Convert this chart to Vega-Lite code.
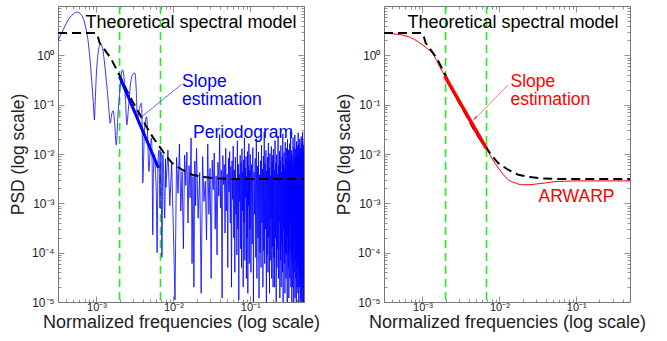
{
  "$schema": "https://vega.github.io/schema/vega-lite/v6.json",
  "padding": {"left": 8, "top": 1, "right": 5, "bottom": 0},
  "spacing": 13,
  "config": {
    "font": "Liberation Sans",
    "view": {"stroke": "#777", "strokeWidth": 1},
    "axis": {
      "labelFont": "Liberation Sans", "labelFontSize": 12, "labelColor": "#222",
      "titleFont": "Liberation Sans", "titleFontSize": 18, "titleFontWeight": "normal", "titleColor": "#222",
      "domain": false, "grid": false, "tickColor": "#777", "tickWidth": 0.8,
      "labelOverlap": false, "labelFlush": false, "labelBound": false
    },
    "text": {"font": "Liberation Sans", "fontSize": 18}
  },
  "datasets": {
    "green": [{"f": 0.002}, {"f": 0.0068}],
    "model": [
      {"f": 0.000316, "p": 2.85}, {"f": 0.00095, "p": 2.85}, {"f": 0.001, "p": 2.8}, {"f": 0.00105, "p": 2.3},
      {"f": 0.0011, "p": 1.8}, {"f": 0.00133, "p": 1.19}, {"f": 0.00155, "p": 0.85}, {"f": 0.00179, "p": 0.55},
      {"f": 0.002, "p": 0.39}, {"f": 0.0025, "p": 0.19}, {"f": 0.003, "p": 0.11}, {"f": 0.0037, "p": 0.062},
      {"f": 0.0045, "p": 0.035}, {"f": 0.0055, "p": 0.021}, {"f": 0.0068, "p": 0.0133}, {"f": 0.008, "p": 0.0092},
      {"f": 0.0096, "p": 0.0066}, {"f": 0.013, "p": 0.0048}, {"f": 0.0176, "p": 0.0038}, {"f": 0.025, "p": 0.0034},
      {"f": 0.037, "p": 0.0032}, {"f": 0.06, "p": 0.00312}, {"f": 0.1, "p": 0.0031}, {"f": 0.5, "p": 0.0031}
    ],
    "ar": [
      {"f": 0.000316, "p": 2.82}, {"f": 0.0004, "p": 2.74}, {"f": 0.00053, "p": 2.6}, {"f": 0.0007, "p": 2.3},
      {"f": 0.00087, "p": 1.9}, {"f": 0.0011, "p": 1.45}, {"f": 0.00141, "p": 1.0}, {"f": 0.00167, "p": 0.59},
      {"f": 0.00194, "p": 0.39}, {"f": 0.0025, "p": 0.19}, {"f": 0.003, "p": 0.11}, {"f": 0.0037, "p": 0.062},
      {"f": 0.0045, "p": 0.034}, {"f": 0.0055, "p": 0.02}, {"f": 0.0068, "p": 0.0128}, {"f": 0.008, "p": 0.0082},
      {"f": 0.0097, "p": 0.0052}, {"f": 0.0113, "p": 0.0038}, {"f": 0.0131, "p": 0.003}, {"f": 0.016, "p": 0.0026},
      {"f": 0.0194, "p": 0.00238}, {"f": 0.025, "p": 0.00239}, {"f": 0.0324, "p": 0.0025}, {"f": 0.04, "p": 0.0026},
      {"f": 0.052, "p": 0.00275}, {"f": 0.07, "p": 0.0028}, {"f": 0.1, "p": 0.00285}, {"f": 0.5, "p": 0.00285}
    ],
    "slopeB": [{"f": 0.002, "p": 0.37}, {"f": 0.0064, "p": 0.0052}],
    "slopeR": [{"f": 0.00195, "p": 0.38}, {"f": 0.0068, "p": 0.0128}],
    "ptrB": [{"f": 0.01285, "p": 0.26, "f2": 0.00368, "p2": 0.0532}],
    "ptrR": [{"f": 0.01303, "p": 0.253, "f2": 0.00469, "p2": 0.0492}],
    "headR": [{"f": 0.00485, "p": 0.0545}],
    "titleL": [{"f": 0.01697, "p": 3.61, "t": "Theoretical spectral model"}],
    "titleR": [{"f": 0.01505, "p": 3.61, "t": "Theoretical spectral model"}],
    "labB": [
      {"f": 0.01296, "p": 0.2297, "t": "Slope"}, {"f": 0.01296, "p": 0.099, "t": "estimation"},
      {"f": 0.018, "p": 0.0212, "t": "Periodogram"}
    ],
    "labR": [
      {"f": 0.01397, "p": 0.2297, "t": "Slope"}, {"f": 0.01397, "p": 0.099, "t": "estimation"},
      {"f": 0.0324, "p": 0.001067, "t": "ARWARP"}
    ],
    "pgLow": [
      {"f": 0.000316, "p": 2.0}, {"f": 0.00036, "p": 3.0}, {"f": 0.0004, "p": 4.3}, {"f": 0.00045, "p": 5.8},
      {"f": 0.0005, "p": 6.9}, {"f": 0.00056, "p": 7.5}, {"f": 0.00062, "p": 7.0}, {"f": 0.00068, "p": 5.3},
      {"f": 0.00073, "p": 3.5}, {"f": 0.00078, "p": 1.9}, {"f": 0.00082, "p": 0.9}, {"f": 0.00085, "p": 0.46},
      {"f": 0.00089, "p": 0.18}, {"f": 0.00092, "p": 0.08}, {"f": 0.00094, "p": 0.049}, {"f": 0.00096, "p": 0.1},
      {"f": 0.001, "p": 0.46}, {"f": 0.00105, "p": 1.1}, {"f": 0.00112, "p": 1.69}, {"f": 0.0012, "p": 1.4},
      {"f": 0.00126, "p": 0.8}, {"f": 0.00131, "p": 0.46}, {"f": 0.00138, "p": 0.2}, {"f": 0.00145, "p": 0.08},
      {"f": 0.00151, "p": 0.042}, {"f": 0.00158, "p": 0.065}, {"f": 0.00165, "p": 0.075}, {"f": 0.00172, "p": 0.045},
      {"f": 0.00181, "p": 0.0153}, {"f": 0.0019, "p": 0.06}, {"f": 0.00198, "p": 0.137}, {"f": 0.00208, "p": 0.35},
      {"f": 0.00219, "p": 0.51}, {"f": 0.0023, "p": 0.3}, {"f": 0.0024, "p": 0.1}, {"f": 0.00248, "p": 0.039},
      {"f": 0.0026, "p": 0.08}, {"f": 0.0028, "p": 0.3}, {"f": 0.003, "p": 0.42}, {"f": 0.00316, "p": 0.435},
      {"f": 0.0033, "p": 0.18}, {"f": 0.0034, "p": 0.049}, {"f": 0.0036, "p": 0.08}, {"f": 0.00384, "p": 0.107},
      {"f": 0.00395, "p": 0.02}, {"f": 0.004, "p": 0.0026}, {"f": 0.0042, "p": 0.03}, {"f": 0.0045, "p": 0.057},
      {"f": 0.00465, "p": 0.02}, {"f": 0.0048, "p": 0.0044}, {"f": 0.005, "p": 0.012}, {"f": 0.0052, "p": 0.021},
      {"f": 0.0053, "p": 0.006}, {"f": 0.0054, "p": 0.00023}, {"f": 0.0055, "p": 0.004}, {"f": 0.0057, "p": 0.0097},
      {"f": 0.00585, "p": 0.004}, {"f": 0.006, "p": 0.0015}, {"f": 0.00615, "p": 0.0001}, {"f": 0.0063, "p": 0.006},
      {"f": 0.0065, "p": 0.012}, {"f": 0.0067, "p": 0.0008}, {"f": 0.0069, "p": 0.011}, {"f": 0.0071, "p": 0.00008},
      {"f": 0.0073, "p": 0.0097}, {"f": 0.0075, "p": 0.003}, {"f": 0.0077, "p": 0.0005}, {"f": 0.0079, "p": 0.008}
    ],
    "pgHigh": [
      {"f": 0.0079, "p": 0.008},
      {"f": 0.008, "p": 0.0021}, {"f": 0.0085, "p": 0.012}, {"f": 0.009, "p": 0.0009}, {"f": 0.0095, "p": 0.0065},
      {"f": 0.01, "p": 0.0003}, {"f": 0.0105, "p": 0.000011}, {"f": 0.011, "p": 0.0085}, {"f": 0.0115, "p": 0.0016},
      {"f": 0.012, "p": 0.016}, {"f": 0.0125, "p": 0.0007}, {"f": 0.013, "p": 0.0044}, {"f": 0.0135, "p": 0.00012},
      {"f": 0.014, "p": 0.0095}, {"f": 0.0145, "p": 0.0023}, {"f": 0.015, "p": 0.011}, {"f": 0.0155, "p": 0.0004},
      {"f": 0.016, "p": 0.0058}, {"f": 0.0165, "p": 0.0013}, {"f": 0.017, "p": 0.021}, {"f": 0.0175, "p": 0.00006},
      {"f": 0.018, "p": 0.0035}, {"f": 0.0185, "p": 0.00002}, {"f": 0.019, "p": 0.0072}, {"f": 0.0195, "p": 0.0009},
      {"f": 0.02, "p": 0.013}, {"f": 0.021, "p": 0.0005}, {"f": 0.022, "p": 0.0042}, {"f": 0.023, "p": 0.000015},
      {"f": 0.024, "p": 0.0089}, {"f": 0.025, "p": 0.0011}, {"f": 0.026, "p": 0.0028}, {"f": 0.027, "p": 0.00018},
      {"f": 0.028, "p": 0.016}, {"f": 0.029, "p": 0.0006}, {"f": 0.03, "p": 0.0051}, {"f": 0.031, "p": 0.00003},
      {"f": 0.032, "p": 0.0075}, {"f": 0.033, "p": 0.0019}, {"f": 0.034, "p": 0.0105}, {"f": 0.035, "p": 0.0003},
      {"f": 0.036, "p": 0.0036}, {"f": 0.037, "p": 0.00009}, {"f": 0.038, "p": 0.0068}, {"f": 0.039, "p": 0.0014},
      {"f": 0.04, "p": 0.025}, {"f": 0.041, "p": 0.0008}, {"f": 0.042, "p": 0.0047}, {"f": 0.043, "p": 0.000012},
      {"f": 0.044, "p": 0.0093}, {"f": 0.045, "p": 0.0024}, {"f": 0.046, "p": 0.0061}, {"f": 0.047, "p": 0.00025},
      {"f": 0.048, "p": 0.013}, {"f": 0.049, "p": 0.0007}, {"f": 0.05, "p": 0.0039}, {"f": 0.051, "p": 0.00005},
      {"f": 0.052, "p": 0.0082}, {"f": 0.053, "p": 0.0017}, {"f": 0.054, "p": 0.0112}, {"f": 0.055, "p": 0.0004},
      {"f": 0.056, "p": 0.0056}, {"f": 0.057, "p": 0.00002}, {"f": 0.058, "p": 0.0073}, {"f": 0.059, "p": 0.0012},
      {"f": 0.06, "p": 0.0145}, {"f": 0.061, "p": 0.0002}, {"f": 0.062, "p": 0.0048}, {"f": 0.063, "p": 0.00004},
      {"f": 0.064, "p": 0.0086}, {"f": 0.065, "p": 0.0006}, {"f": 0.066, "p": 0.0031}, {"f": 0.067, "p": 0.00009},
      {"f": 0.068, "p": 0.0185}, {"f": 0.069, "p": 0.0003}, {"f": 0.07, "p": 0.0062}, {"f": 0.071, "p": 0.000011},
      {"f": 0.072, "p": 0.0039}, {"f": 0.073, "p": 0.0011}, {"f": 0.074, "p": 0.0094}, {"f": 0.075, "p": 0.00012},
      {"f": 0.076, "p": 0.0067}, {"f": 0.077, "p": 0.00005}, {"f": 0.078, "p": 0.0128}, {"f": 0.079, "p": 0.0007},
      {"f": 0.08, "p": 0.0044}, {"f": 0.081, "p": 0.00002}, {"f": 0.082, "p": 0.0076}, {"f": 0.083, "p": 0.0004},
      {"f": 0.084, "p": 0.0215}, {"f": 0.085, "p": 0.00007}, {"f": 0.086, "p": 0.0052}, {"f": 0.087, "p": 0.0013},
      {"f": 0.088, "p": 0.0089}, {"f": 0.089, "p": 0.00003}, {"f": 0.09, "p": 0.0035}, {"f": 0.091, "p": 0.0002},
      {"f": 0.092, "p": 0.0112}, {"f": 0.093, "p": 0.000015}, {"f": 0.094, "p": 0.0058}, {"f": 0.095, "p": 0.0009},
      {"f": 0.096, "p": 0.0163}, {"f": 0.097, "p": 0.00006}, {"f": 0.098, "p": 0.0047}, {"f": 0.099, "p": 0.0003},
      {"f": 0.1, "p": 0.0098}, {"f": 0.102, "p": 0.00004}, {"f": 0.104, "p": 0.0061}, {"f": 0.106, "p": 0.00015},
      {"f": 0.108, "p": 0.0135}, {"f": 0.11, "p": 0.00001}, {"f": 0.112, "p": 0.0043}, {"f": 0.114, "p": 0.0006},
      {"f": 0.116, "p": 0.0082}, {"f": 0.118, "p": 0.00008}, {"f": 0.12, "p": 0.0205}, {"f": 0.122, "p": 0.00003},
      {"f": 0.124, "p": 0.0057}, {"f": 0.126, "p": 0.0002}, {"f": 0.128, "p": 0.0109}, {"f": 0.13, "p": 0.000012},
      {"f": 0.132, "p": 0.0038}, {"f": 0.134, "p": 0.0001}, {"f": 0.136, "p": 0.0073}, {"f": 0.138, "p": 0.00005},
      {"f": 0.14, "p": 0.0152}, {"f": 0.142, "p": 0.0004}, {"f": 0.144, "p": 0.0049}, {"f": 0.146, "p": 0.00002},
      {"f": 0.148, "p": 0.0091}, {"f": 0.15, "p": 0.00011}, {"f": 0.152, "p": 0.0275}, {"f": 0.154, "p": 0.00006},
      {"f": 0.156, "p": 0.0064}, {"f": 0.158, "p": 0.0003}, {"f": 0.16, "p": 0.0118}, {"f": 0.162, "p": 0.00001},
      {"f": 0.164, "p": 0.0045}, {"f": 0.166, "p": 0.00009}, {"f": 0.168, "p": 0.0086}, {"f": 0.17, "p": 0.00004},
      {"f": 0.172, "p": 0.0167}, {"f": 0.174, "p": 0.0002}, {"f": 0.176, "p": 0.0053}, {"f": 0.178, "p": 0.000015},
      {"f": 0.18, "p": 0.0102}, {"f": 0.182, "p": 0.00007}, {"f": 0.184, "p": 0.0036}, {"f": 0.186, "p": 0.0005},
      {"f": 0.188, "p": 0.0142}, {"f": 0.19, "p": 0.00003}, {"f": 0.192, "p": 0.0069}, {"f": 0.194, "p": 0.00013},
      {"f": 0.196, "p": 0.0094}, {"f": 0.198, "p": 0.00002},
      {"f": 0.2, "p": 0.0125}, {"f": 0.2025, "p": 0.00008}, {"f": 0.205, "p": 0.0047}, {"f": 0.2075, "p": 0.00002},
      {"f": 0.21, "p": 0.0188}, {"f": 0.2125, "p": 0.0002}, {"f": 0.215, "p": 0.0066}, {"f": 0.2175, "p": 0.00001},
      {"f": 0.22, "p": 0.0097}, {"f": 0.2225, "p": 0.00005}, {"f": 0.225, "p": 0.0039}, {"f": 0.2275, "p": 0.00012},
      {"f": 0.23, "p": 0.0231}, {"f": 0.2325, "p": 0.00003}, {"f": 0.235, "p": 0.0058}, {"f": 0.2375, "p": 0.0004},
      {"f": 0.24, "p": 0.0114}, {"f": 0.2425, "p": 0.000012}, {"f": 0.245, "p": 0.0072}, {"f": 0.2475, "p": 0.00007},
      {"f": 0.25, "p": 0.0149}, {"f": 0.2525, "p": 0.00002}, {"f": 0.255, "p": 0.0043}, {"f": 0.2575, "p": 0.00015},
      {"f": 0.26, "p": 0.0088}, {"f": 0.2625, "p": 0.00004}, {"f": 0.265, "p": 0.0256}, {"f": 0.2675, "p": 0.00001},
      {"f": 0.27, "p": 0.0061}, {"f": 0.2725, "p": 0.0003}, {"f": 0.275, "p": 0.0107}, {"f": 0.2775, "p": 0.00006},
      {"f": 0.28, "p": 0.0052}, {"f": 0.2825, "p": 0.000015}, {"f": 0.285, "p": 0.0173}, {"f": 0.2875, "p": 0.0001},
      {"f": 0.29, "p": 0.0079}, {"f": 0.2925, "p": 0.00003}, {"f": 0.295, "p": 0.0131}, {"f": 0.2975, "p": 0.00009},
      {"f": 0.3, "p": 0.0046}, {"f": 0.3025, "p": 0.00001}, {"f": 0.305, "p": 0.0198}, {"f": 0.3075, "p": 0.0002},
      {"f": 0.31, "p": 0.0068}, {"f": 0.3125, "p": 0.00005}, {"f": 0.315, "p": 0.0121}, {"f": 0.3175, "p": 0.000012},
      {"f": 0.32, "p": 0.0055}, {"f": 0.3225, "p": 0.00011}, {"f": 0.325, "p": 0.0162}, {"f": 0.3275, "p": 0.00003},
      {"f": 0.33, "p": 0.0084}, {"f": 0.3325, "p": 0.0004}, {"f": 0.335, "p": 0.0289}, {"f": 0.3375, "p": 0.00002},
      {"f": 0.34, "p": 0.0071}, {"f": 0.3425, "p": 0.00008}, {"f": 0.345, "p": 0.0117}, {"f": 0.3475, "p": 0.00001},
      {"f": 0.35, "p": 0.0093}, {"f": 0.3525, "p": 0.00006}, {"f": 0.355, "p": 0.0049}, {"f": 0.3575, "p": 0.00002},
      {"f": 0.36, "p": 0.0215}, {"f": 0.3625, "p": 0.00013}, {"f": 0.365, "p": 0.0076}, {"f": 0.3675, "p": 0.00001},
      {"f": 0.37, "p": 0.0138}, {"f": 0.3725, "p": 0.00004}, {"f": 0.375, "p": 0.0057}, {"f": 0.3775, "p": 0.0002},
      {"f": 0.38, "p": 0.0244}, {"f": 0.3825, "p": 0.000012}, {"f": 0.385, "p": 0.0082}, {"f": 0.3875, "p": 0.00007},
      {"f": 0.39, "p": 0.0126}, {"f": 0.3925, "p": 0.00003}, {"f": 0.395, "p": 0.0063}, {"f": 0.3975, "p": 0.00001},
      {"f": 0.4, "p": 0.0179}, {"f": 0.4025, "p": 0.00009}, {"f": 0.405, "p": 0.0088}, {"f": 0.4075, "p": 0.00002},
      {"f": 0.41, "p": 0.0146}, {"f": 0.4125, "p": 0.00005}, {"f": 0.415, "p": 0.0071}, {"f": 0.4175, "p": 0.000015},
      {"f": 0.42, "p": 0.0268}, {"f": 0.4225, "p": 0.00011}, {"f": 0.425, "p": 0.0095}, {"f": 0.4275, "p": 0.00001},
      {"f": 0.43, "p": 0.0157}, {"f": 0.4325, "p": 0.00004}, {"f": 0.435, "p": 0.0066}, {"f": 0.4375, "p": 0.00002},
      {"f": 0.44, "p": 0.0201}, {"f": 0.4425, "p": 0.00008}, {"f": 0.445, "p": 0.0104}, {"f": 0.4475, "p": 0.00001},
      {"f": 0.45, "p": 0.0132}, {"f": 0.4525, "p": 0.00003}, {"f": 0.455, "p": 0.0078}, {"f": 0.4575, "p": 0.000012},
      {"f": 0.46, "p": 0.0226}, {"f": 0.4625, "p": 0.00006}, {"f": 0.465, "p": 0.0091}, {"f": 0.4675, "p": 0.00001},
      {"f": 0.47, "p": 0.0169}, {"f": 0.4725, "p": 0.00002}, {"f": 0.475, "p": 0.0084}, {"f": 0.4775, "p": 0.00005},
      {"f": 0.48, "p": 0.0281}, {"f": 0.4825, "p": 0.00001}, {"f": 0.485, "p": 0.0112}, {"f": 0.4875, "p": 0.00003},
      {"f": 0.49, "p": 0.0153}, {"f": 0.4925, "p": 0.00001}, {"f": 0.495, "p": 0.0097}, {"f": 0.4975, "p": 0.00002},
      {"f": 0.5, "p": 0.0186}
    ]
  },
  "hconcat": [
    {
      "width": 246, "height": 296,
      "layer": [
        {
          "data": {"name": "green"},
          "mark": {"type": "rule", "stroke": "#22ee22", "strokeWidth": 1.6, "strokeDash": [8, 5]},
          "encoding": {"x": {"field": "f", "type": "quantitative", "scale": {"type": "log", "domain": [0.000316, 0.5], "nice": false}, "axis": null}}
        },
        {
          "data": {"name": "pgLow"},
          "mark": {"type": "line", "stroke": "#0000ff", "strokeWidth": 0.8, "clip": true, "interpolate": "monotone"},
          "encoding": {
            "x": {"field": "f", "type": "quantitative", "scale": {"type": "log", "domain": [0.000316, 0.5], "nice": false},
              "axis": {"orient": "bottom", "title": "Normalized frequencies (log scale)", "titlePadding": -2, "labelPadding": 5, "labelFontSize": 11,
                "values": [0.0004,0.0005,0.0006,0.0007,0.0008,0.0009,0.001,0.002,0.003,0.004,0.005,0.006,0.007,0.008,0.009,0.01,0.02,0.03,0.04,0.05,0.06,0.07,0.08,0.09,0.1,0.2,0.3,0.4,0.5],
                "labelExpr": "abs(log(datum.value)/LN10 - round(log(datum.value)/LN10)) < 0.001 ? ['10⁻³','10⁻²','10⁻¹'][round(log(datum.value)/LN10)+3] : ''",
                "tickSize": {"condition": {"test": "abs(log(datum.value)/LN10 - round(log(datum.value)/LN10)) < 0.001", "value": -6}, "value": -3}}},
            "y": {"field": "p", "type": "quantitative", "scale": {"type": "log", "domain": [0.00001, 10], "nice": false},
              "axis": {"orient": "left", "title": "PSD (log scale)", "titleFontSize": 17.5, "titlePadding": 4, "labelPadding": 10,
                "values": [0.00001,0.00002,0.00003,0.00004,0.00005,0.00006,0.00007,0.00008,0.00009,0.0001,0.0002,0.0003,0.0004,0.0005,0.0006,0.0007,0.0008,0.0009,0.001,0.002,0.003,0.004,0.005,0.006,0.007,0.008,0.009,0.01,0.02,0.03,0.04,0.05,0.06,0.07,0.08,0.09,0.1,0.2,0.3,0.4,0.5,0.6,0.7,0.8,0.9,1,2,3,4,5,6,7,8,9],
                "labelExpr": "abs(log(datum.value)/LN10 - round(log(datum.value)/LN10)) < 0.001 ? ['10⁻⁵','10⁻⁴','10⁻³','10⁻²','10⁻¹','10⁰'][round(log(datum.value)/LN10)+5] : ''",
                "tickSize": {"condition": {"test": "abs(log(datum.value)/LN10 - round(log(datum.value)/LN10)) < 0.001", "value": -6}, "value": -3}}}
          }
        },
        {
          "data": {"name": "pgHigh"},
          "mark": {"type": "line", "stroke": "#0000ff", "strokeWidth": 0.8, "clip": true},
          "encoding": {"x": {"field": "f", "type": "quantitative", "axis": null}, "y": {"field": "p", "type": "quantitative", "axis": null}}
        },
        {
          "data": {"name": "model"},
          "mark": {"type": "line", "stroke": "#000000", "strokeWidth": 2, "strokeDash": [9, 5]},
          "encoding": {
            "x": {"field": "f", "type": "quantitative", "scale": {"type": "log", "domain": [0.000316, 0.5], "nice": false},
              "axis": {"orient": "top", "title": null, "labels": false,
                "values": [0.0004,0.0005,0.0006,0.0007,0.0008,0.0009,0.001,0.002,0.003,0.004,0.005,0.006,0.007,0.008,0.009,0.01,0.02,0.03,0.04,0.05,0.06,0.07,0.08,0.09,0.1,0.2,0.3,0.4,0.5],
                "tickSize": {"condition": {"test": "abs(log(datum.value)/LN10 - round(log(datum.value)/LN10)) < 0.001", "value": -6}, "value": -3}}},
            "y": {"field": "p", "type": "quantitative", "scale": {"type": "log", "domain": [0.00001, 10], "nice": false},
              "axis": {"orient": "right", "title": null, "labels": false,
                "values": [0.00001,0.00002,0.00003,0.00004,0.00005,0.00006,0.00007,0.00008,0.00009,0.0001,0.0002,0.0003,0.0004,0.0005,0.0006,0.0007,0.0008,0.0009,0.001,0.002,0.003,0.004,0.005,0.006,0.007,0.008,0.009,0.01,0.02,0.03,0.04,0.05,0.06,0.07,0.08,0.09,0.1,0.2,0.3,0.4,0.5,0.6,0.7,0.8,0.9,1,2,3,4,5,6,7,8,9],
                "tickSize": {"condition": {"test": "abs(log(datum.value)/LN10 - round(log(datum.value)/LN10)) < 0.001", "value": -6}, "value": -3}}}
          }
        },
        {
          "data": {"name": "slopeB"},
          "mark": {"type": "line", "stroke": "#0000ff", "strokeWidth": 3},
          "encoding": {"x": {"field": "f", "type": "quantitative", "axis": null}, "y": {"field": "p", "type": "quantitative", "axis": null}}
        },
        {
          "data": {"name": "ptrB"},
          "mark": {"type": "rule", "stroke": "#3344ff", "strokeWidth": 0.8},
          "encoding": {"x": {"field": "f", "type": "quantitative", "axis": null}, "y": {"field": "p", "type": "quantitative", "axis": null}, "x2": {"field": "f2"}, "y2": {"field": "p2"}}
        },
        {
          "data": {"name": "titleL"},
          "mark": {"type": "text", "color": "#000000", "align": "center", "baseline": "alphabetic"},
          "encoding": {"x": {"field": "f", "type": "quantitative", "axis": null}, "y": {"field": "p", "type": "quantitative", "axis": null}, "text": {"field": "t"}}
        },
        {
          "data": {"name": "labB"},
          "mark": {"type": "text", "color": "#0000ff", "align": "left", "baseline": "alphabetic", "fontSize": 17.5},
          "encoding": {"x": {"field": "f", "type": "quantitative", "axis": null}, "y": {"field": "p", "type": "quantitative", "axis": null}, "text": {"field": "t"}}
        }
      ]
    },
    {
      "width": 246, "height": 296,
      "layer": [
        {
          "data": {"name": "green"},
          "mark": {"type": "rule", "stroke": "#22ee22", "strokeWidth": 1.6, "strokeDash": [8, 5]},
          "encoding": {"x": {"field": "f", "type": "quantitative", "scale": {"type": "log", "domain": [0.000316, 0.5], "nice": false}, "axis": null}}
        },
        {
          "data": {"name": "ar"},
          "mark": {"type": "line", "stroke": "#ff0000", "strokeWidth": 1, "interpolate": "monotone"},
          "encoding": {
            "x": {"field": "f", "type": "quantitative", "scale": {"type": "log", "domain": [0.000316, 0.5], "nice": false},
              "axis": {"orient": "bottom", "title": "Normalized frequencies (log scale)", "titlePadding": -2, "labelPadding": 5, "labelFontSize": 11,
                "values": [0.0004,0.0005,0.0006,0.0007,0.0008,0.0009,0.001,0.002,0.003,0.004,0.005,0.006,0.007,0.008,0.009,0.01,0.02,0.03,0.04,0.05,0.06,0.07,0.08,0.09,0.1,0.2,0.3,0.4,0.5],
                "labelExpr": "abs(log(datum.value)/LN10 - round(log(datum.value)/LN10)) < 0.001 ? ['10⁻³','10⁻²','10⁻¹'][round(log(datum.value)/LN10)+3] : ''",
                "tickSize": {"condition": {"test": "abs(log(datum.value)/LN10 - round(log(datum.value)/LN10)) < 0.001", "value": -6}, "value": -3}}},
            "y": {"field": "p", "type": "quantitative", "scale": {"type": "log", "domain": [0.00001, 10], "nice": false},
              "axis": {"orient": "left", "title": "PSD (log scale)", "titleFontSize": 17.5, "titlePadding": 4, "labelPadding": 10,
                "values": [0.00001,0.00002,0.00003,0.00004,0.00005,0.00006,0.00007,0.00008,0.00009,0.0001,0.0002,0.0003,0.0004,0.0005,0.0006,0.0007,0.0008,0.0009,0.001,0.002,0.003,0.004,0.005,0.006,0.007,0.008,0.009,0.01,0.02,0.03,0.04,0.05,0.06,0.07,0.08,0.09,0.1,0.2,0.3,0.4,0.5,0.6,0.7,0.8,0.9,1,2,3,4,5,6,7,8,9],
                "labelExpr": "abs(log(datum.value)/LN10 - round(log(datum.value)/LN10)) < 0.001 ? ['10⁻⁵','10⁻⁴','10⁻³','10⁻²','10⁻¹','10⁰'][round(log(datum.value)/LN10)+5] : ''",
                "tickSize": {"condition": {"test": "abs(log(datum.value)/LN10 - round(log(datum.value)/LN10)) < 0.001", "value": -6}, "value": -3}}}
          }
        },
        {
          "data": {"name": "model"},
          "mark": {"type": "line", "stroke": "#000000", "strokeWidth": 2, "strokeDash": [9, 5]},
          "encoding": {
            "x": {"field": "f", "type": "quantitative", "scale": {"type": "log", "domain": [0.000316, 0.5], "nice": false},
              "axis": {"orient": "top", "title": null, "labels": false,
                "values": [0.0004,0.0005,0.0006,0.0007,0.0008,0.0009,0.001,0.002,0.003,0.004,0.005,0.006,0.007,0.008,0.009,0.01,0.02,0.03,0.04,0.05,0.06,0.07,0.08,0.09,0.1,0.2,0.3,0.4,0.5],
                "tickSize": {"condition": {"test": "abs(log(datum.value)/LN10 - round(log(datum.value)/LN10)) < 0.001", "value": -6}, "value": -3}}},
            "y": {"field": "p", "type": "quantitative", "scale": {"type": "log", "domain": [0.00001, 10], "nice": false},
              "axis": {"orient": "right", "title": null, "labels": false,
                "values": [0.00001,0.00002,0.00003,0.00004,0.00005,0.00006,0.00007,0.00008,0.00009,0.0001,0.0002,0.0003,0.0004,0.0005,0.0006,0.0007,0.0008,0.0009,0.001,0.002,0.003,0.004,0.005,0.006,0.007,0.008,0.009,0.01,0.02,0.03,0.04,0.05,0.06,0.07,0.08,0.09,0.1,0.2,0.3,0.4,0.5,0.6,0.7,0.8,0.9,1,2,3,4,5,6,7,8,9],
                "tickSize": {"condition": {"test": "abs(log(datum.value)/LN10 - round(log(datum.value)/LN10)) < 0.001", "value": -6}, "value": -3}}}
          }
        },
        {
          "data": {"name": "slopeR"},
          "mark": {"type": "line", "stroke": "#ff0000", "strokeWidth": 3.5},
          "encoding": {"x": {"field": "f", "type": "quantitative", "axis": null}, "y": {"field": "p", "type": "quantitative", "axis": null}}
        },
        {
          "data": {"name": "ptrR"},
          "mark": {"type": "rule", "stroke": "#ff5555", "strokeWidth": 0.8},
          "encoding": {"x": {"field": "f", "type": "quantitative", "axis": null}, "y": {"field": "p", "type": "quantitative", "axis": null}, "x2": {"field": "f2"}, "y2": {"field": "p2"}}
        },
        {
          "data": {"name": "headR"},
          "mark": {"type": "point", "shape": "wedge", "angle": 224, "size": 45, "filled": true, "color": "#ff3333", "opacity": 1},
          "encoding": {"x": {"field": "f", "type": "quantitative", "axis": null}, "y": {"field": "p", "type": "quantitative", "axis": null}}
        },
        {
          "data": {"name": "titleR"},
          "mark": {"type": "text", "color": "#000000", "align": "center", "baseline": "alphabetic"},
          "encoding": {"x": {"field": "f", "type": "quantitative", "axis": null}, "y": {"field": "p", "type": "quantitative", "axis": null}, "text": {"field": "t"}}
        },
        {
          "data": {"name": "labR"},
          "mark": {"type": "text", "color": "#ff0000", "align": "left", "baseline": "alphabetic", "fontSize": 17.5},
          "encoding": {"x": {"field": "f", "type": "quantitative", "axis": null}, "y": {"field": "p", "type": "quantitative", "axis": null}, "text": {"field": "t"}}
        }
      ]
    }
  ]
}
